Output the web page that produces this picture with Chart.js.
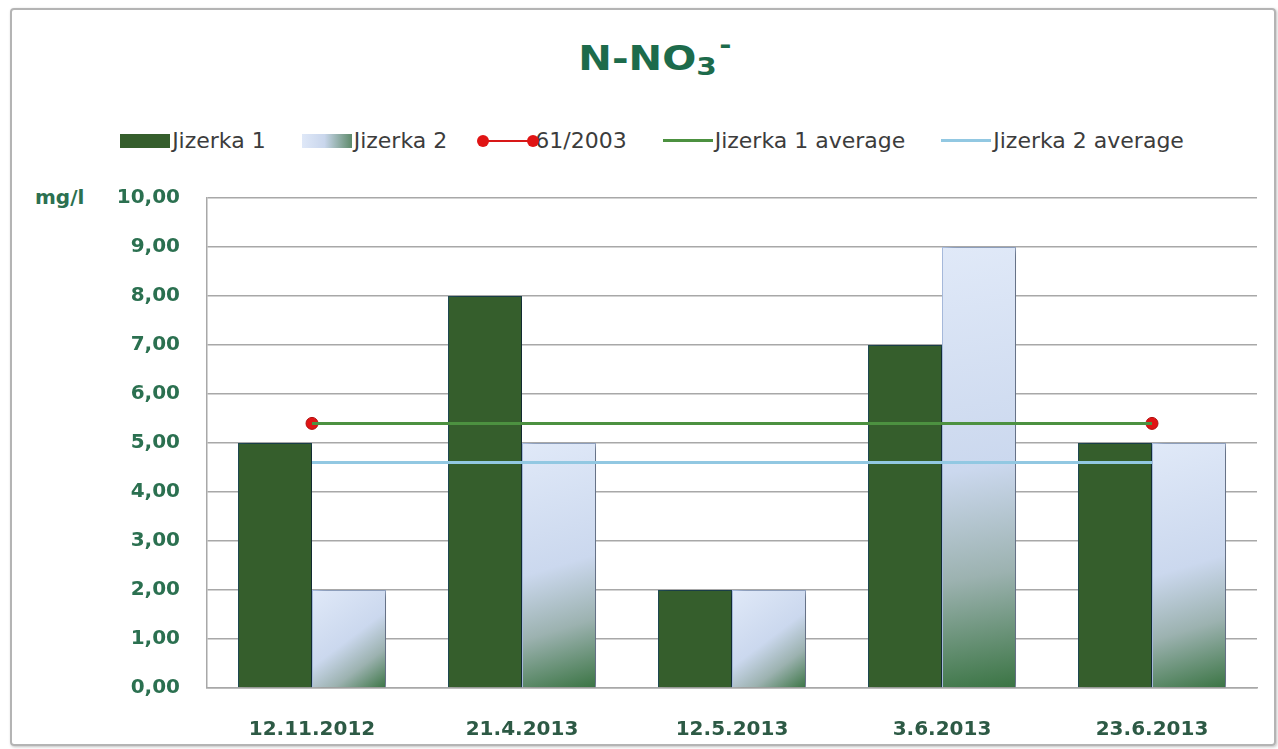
<!DOCTYPE html>
<html>
<head>
<meta charset="utf-8">
<script src="https://cdn.jsdelivr.net/npm/chart.js@4.4.0/dist/chart.umd.min.js"></script>
<style>
    body { margin: 0; background: #fff; width: 1278px; height: 749px; overflow: hidden; position: relative; font-family: "DejaVu Sans", sans-serif; }
    .frame { position: absolute; left: 10px; top: 8px; width: 1262px; height: 734px; border: 2px solid #b4b4b4; border-radius: 4px; box-shadow: 1px 1px 3px rgba(0,0,0,.25); }
    .title { position: absolute; left: 0; top: 38px; width: 1310px; text-align: center; color: #1d6b4b; font: bold 34px "DejaVu Sans", sans-serif; }
    .title span.t { display: inline-block; transform: scaleX(1.18); }
    .title sub { font-size: 25px; position: relative; top: 5px; vertical-align: baseline; }
    .title sup { font-size: 25px; position: relative; top: -17px; vertical-align: baseline; margin-left: 2px; }
    .legend { position: absolute; left: 0; top: 128px; width: 1304px; display: flex; justify-content: center; gap: 36px; font-size: 22px; color: #3c3c3c; }
    .legend .item { display: flex; align-items: center; }
    .legend .mark { width: 50px; height: 14px; margin-right: 2px; position: relative; }
    .legend .line { height: 3px; }
    .legend .dot { position: absolute; width: 12px; height: 12px; border-radius: 50%; top: -5px; background: #e01414; }
    .unit { position: absolute; left: 35px; top: 185px; font: bold 20px "DejaVu Sans", sans-serif; color: #2b7050; }
    canvas { position: absolute; left: 0; top: 0; }
</style>
</head>
<body>
<div class="frame"></div>
<div class="title"><span class="t">N-NO<sub>3</sub><sup>-</sup></span></div>
<div class="legend" id="legend"></div>
<div class="unit">mg/l</div>
<canvas id="no3Chart" width="1278" height="749"></canvas>
<script>
    const dates = ['12.11.2012', '21.4.2013', '12.5.2013', '3.6.2013', '23.6.2013'];
    const jizerka1 = [5, 8, 2, 7, 5];
    const jizerka2 = [2, 5, 2, 9, 5];
    const limit61 = [5.4, null, null, null, 5.4];
    const jizerka1Avg = [5.4, 5.4, 5.4, 5.4, 5.4];
    const jizerka2Avg = [4.6, 4.6, 4.6, 4.6, 4.6];
    const yTicks = [0, 1, 2, 3, 4, 5, 6, 7, 8, 9, 10];

    const catPct = 0.705;

    // light blue bars fade to green towards the bottom right
    function blueFill(c) {
        const chart = c.chart;
        const xs = chart.scales.x, ys = chart.scales.y;
        if (!chart.chartArea || !xs || !ys || c.type !== 'data') return '#d3def2';
        const cx = xs.getPixelForValue(c.dataIndex);
        const w = (xs.width / dates.length) * catPct / 2;
        const top = ys.getPixelForValue(c.raw);
        const base = ys.getPixelForValue(0);
        if (![cx, w, top, base].every(Number.isFinite)) return '#d3def2';
        const g = chart.ctx.createLinearGradient(cx, top, cx + w, base);
        g.addColorStop(0, '#e0e9f8');
        g.addColorStop(0.5, '#cbd8ee');
        g.addColorStop(0.74, '#9cb2b0');
        g.addColorStop(1, '#3a7443');
        return g;
    }

    // soft grey shadow to the right of the bars
    const barShadow = {
        id: 'barShadow',
        beforeDatasetDraw(chart, args) {
            if (chart.data.datasets[args.index].type !== 'bar') return;
            const ctx = chart.ctx;
            ctx.shadowColor = 'rgba(0,0,0,0.45)';
            ctx.shadowBlur = 8;
            ctx.shadowOffsetX = 6;
            ctx.shadowOffsetY = 1;
        },
        afterDatasetDraw(chart) {
            const ctx = chart.ctx;
            ctx.shadowColor = 'rgba(0,0,0,0)';
            ctx.shadowBlur = 0;
            ctx.shadowOffsetX = 0;
            ctx.shadowOffsetY = 0;
        }
    };

    const chart = new Chart(document.getElementById('no3Chart').getContext('2d'), {
        data: {
            labels: dates,
            datasets: [
                {
                    type: 'line', label: 'Jizerka 1 average', data: jizerka1Avg,
                    borderColor: '#4c9140', borderWidth: 3, pointRadius: 0, order: 1
                },
                {
                    type: 'line', label: 'Jizerka 2 average', data: jizerka2Avg,
                    borderColor: '#92c8e2', borderWidth: 3, pointRadius: 0, order: 2
                },
                {
                    type: 'line', label: '61/2003', data: limit61, spanGaps: true,
                    borderColor: '#d81818', borderWidth: 2,
                    pointRadius: 6, pointBackgroundColor: '#e01414', pointBorderColor: '#b01010', pointBorderWidth: 1,
                    order: 3
                },
                {
                    type: 'bar', label: 'Jizerka 1', data: jizerka1,
                    backgroundColor: '#355e2c', borderColor: '#1f4a55', borderWidth: 1,
                    categoryPercentage: catPct, barPercentage: 1, order: 4
                },
                {
                    type: 'bar', label: 'Jizerka 2', data: jizerka2,
                    backgroundColor: blueFill, borderColor: '#a9bde0', borderWidth: 1,
                    categoryPercentage: catPct, barPercentage: 1, order: 5
                }
            ]
        },
        options: {
            responsive: false,
            animation: false,
            devicePixelRatio: 1,
            layout: { padding: { top: 198, right: 21, left: 0, bottom: 0 } },
            plugins: {
                legend: { display: false },
                title: { display: false },
                tooltip: { enabled: false }
            },
            scales: {
                x: {
                    grid: { display: false },
                    border: { color: '#a8a8a8', width: 1.5 },
                    ticks: { color: '#2d5a45', font: { family: 'DejaVu Sans', size: 20, weight: 'bold' }, padding: 22 },
                    afterFit: s => { s.height = 61; }
                },
                y: {
                    min: 0, max: 10,
                    afterBuildTicks: s => { s.ticks = yTicks.map(v => ({ value: v })); },
                    grid: { color: '#a8a8a8', lineWidth: 1.5, drawTicks: false },
                    border: { color: '#a8a8a8', width: 1.5 },
                    ticks: {
                        color: '#2b7050', font: { family: 'DejaVu Sans', size: 20, weight: 'bold' }, padding: 27,
                        callback: v => v.toFixed(2).replace('.', ',')
                    },
                    afterFit: s => { s.width = 207; }
                }
            }
        },
        plugins: [barShadow]
    });

    // Legend built from the datasets, in the original order
    const legendOrder = ['Jizerka 1', 'Jizerka 2', '61/2003', 'Jizerka 1 average', 'Jizerka 2 average'];
    const legend = document.getElementById('legend');
    legendOrder.forEach(name => {
        const ds = chart.data.datasets.find(d => d.label === name);
        const item = document.createElement('div');
        item.className = 'item';
        const mark = document.createElement('div');
        mark.className = 'mark';
        if (ds.type === 'bar') {
            mark.style.background = name === 'Jizerka 1' ? ds.backgroundColor : 'linear-gradient(90deg, #dfe8f8 0%, #c9d6ec 45%, #5e8a6a 100%)';
        } else {
            mark.classList.add('line');
            mark.style.background = ds.borderColor;
            if (ds.pointRadius) {
                mark.style.height = '2px';
                ['-6px', '44px'].forEach(l => {
                    const d = document.createElement('div');
                    d.className = 'dot';
                    d.style.left = l;
                    mark.appendChild(d);
                });
            }
        }
        item.appendChild(mark);
        item.appendChild(Object.assign(document.createElement('span'), { innerText: name }));
        legend.appendChild(item);
    });
</script>
</body>
</html>
